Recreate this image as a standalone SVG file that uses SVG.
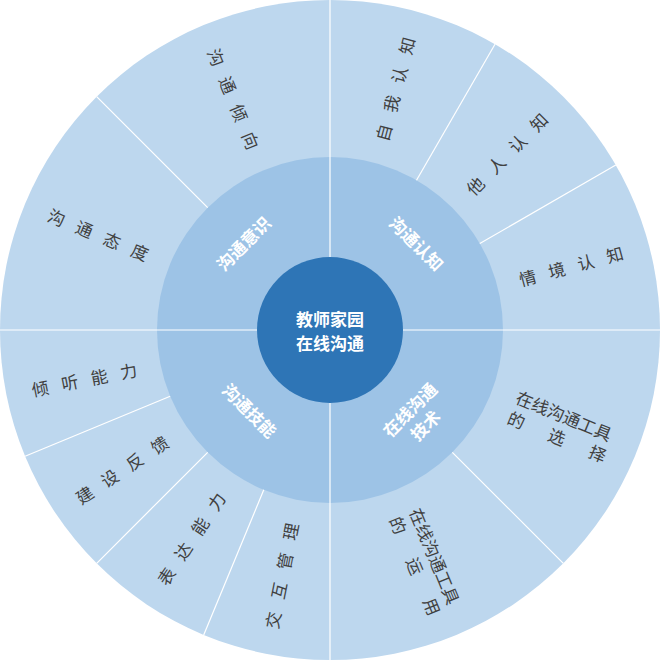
<svg xmlns="http://www.w3.org/2000/svg" width="661" height="661" viewBox="0 0 661 661">
<style>
.o{font-family:"Noto Sans CJK SC",sans-serif;font-size:17px;fill:#404040;letter-spacing:13px;text-anchor:middle;dominant-baseline:central}
.m{font-family:"Noto Sans CJK SC",sans-serif;font-size:17px;font-weight:bold;fill:#fff;text-anchor:middle;dominant-baseline:central}
.l{stroke:#fff;stroke-width:1.2}
</style>
<g id="outer-ring"><circle cx="330" cy="330" r="330" fill="#bdd7ee"/></g>
<g id="middle-ring"><circle cx="330" cy="330" r="173" fill="#9dc3e6"/></g>
<g id="connectors">
<line class="l" x1="330" y1="0" x2="330" y2="661"/>
<line class="l" x1="0" y1="330" x2="661" y2="330"/>
<line class="l" x1="416.5" y1="180.2" x2="495" y2="44.2"/>
<line class="l" x1="479.8" y1="243.5" x2="615.8" y2="165"/>
<line class="l" x1="452.3" y1="452.3" x2="563.3" y2="563.3"/>
<line class="l" x1="263.8" y1="489.8" x2="203.7" y2="634.9"/>
<line class="l" x1="207.7" y1="452.3" x2="96.7" y2="563.3"/>
<line class="l" x1="170.2" y1="396.2" x2="25.1" y2="456.3"/>
<line class="l" x1="207.7" y1="207.7" x2="96.7" y2="96.7"/>
</g>
<g id="center"><circle cx="330" cy="330" r="73" fill="#2e75b6"/>
<text class="m" x="330" y="318">教师家园</text><text class="m" x="330" y="342">在线沟通</text></g>
<g id="mid-labels">
<text class="m" transform="translate(417,243) rotate(45)">沟通认知</text>
<text class="m" transform="translate(243,243) rotate(-45)">沟通意识</text>
<text class="m" transform="translate(250,410) rotate(45)">沟通技能</text>
<g transform="translate(417,417) rotate(-45)"><text class="m" y="-11">在线沟通</text><text class="m" y="11">技术</text></g>
</g>
<g id="outer-labels">
<text class="o" dx="6" transform="translate(394.7,88.5) rotate(-75)">自我认知</text>
<text class="o" dx="6" transform="translate(506.8,153.2) rotate(-45)">他人认知</text>
<text class="o" dx="6" transform="translate(571.5,265.3) rotate(-15)">情境认知</text>
<g transform="translate(561,425.7) rotate(22.5)"><text class="o" style="letter-spacing:0;text-anchor:start" x="-52" y="-11">在线沟通工具</text><text class="o" style="letter-spacing:27px;text-anchor:start" x="-52" y="11">的选择</text></g>
<g transform="translate(425.7,561) rotate(67.5)"><text class="o" style="letter-spacing:0;text-anchor:start" x="-52" y="-11">在线沟通工具</text><text class="o" style="letter-spacing:27px;text-anchor:start" x="-52" y="11">的运用</text></g>
<text class="o" dx="6" transform="translate(281.2,575.2) rotate(-78.75)">交互管理</text>
<text class="o" dx="6" transform="translate(191.1,537.9) rotate(-56.25)">表达能力</text>
<text class="o" dx="6" transform="translate(122.1,468.9) rotate(-33.75)">建设反馈</text>
<text class="o" dx="6" transform="translate(84.8,378.8) rotate(-11.25)">倾听能力</text>
<text class="o" dx="6" transform="translate(99,234.3) rotate(22.5)">沟通态度</text>
<text class="o" dx="6" transform="translate(234.3,99) rotate(67.5)">沟通倾向</text>
</g>
</svg>
